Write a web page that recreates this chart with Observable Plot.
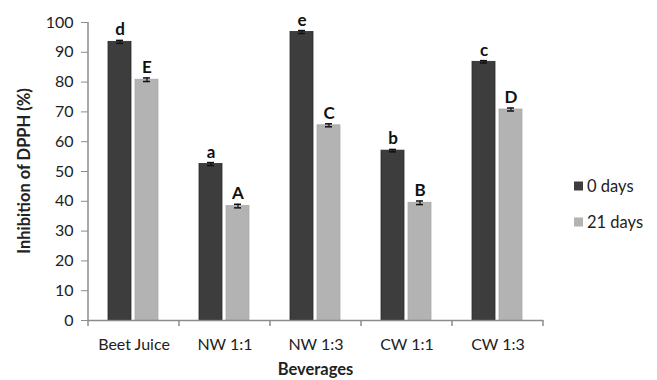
<!DOCTYPE html>
<html>
<head>
<meta charset="utf-8">
<script src="https://cdn.jsdelivr.net/npm/d3@7"></script>
<script src="https://cdn.jsdelivr.net/npm/@observablehq/plot@0.6"></script>
<style>
  html, body { margin: 0; padding: 0; background: #fff; }
  #chart svg { display: block; }
</style>
</head>
<body>
<div id="chart"></div>
<script>
const categories = ["Beet Juice", "NW 1:1", "NW 1:3", "CW 1:1", "CW 1:3"];
const series = ["0 days", "21 days"];
const day0 = [93.5, 52.5, 96.8, 57.0, 86.8];
const day21 = [80.8, 38.4, 65.5, 39.5, 70.8];
const err0 = [0.5, 0.5, 0.5, 0.4, 0.4];
const err21 = [0.6, 0.6, 0.5, 0.6, 0.5];
const letters0 = ["d", "a", "e", "b", "c"];
const letters21 = ["E", "A", "C", "B", "D"];
const yTicks = [0, 10, 20, 30, 40, 50, 60, 70, 80, 90, 100];
const xTitle = "Beverages";
const yTitle = "Inhibition of DPPH (%)";

const data = [];
categories.forEach((c, i) => {
  data.push({cat: c, series: series[0], value: day0[i], err: err0[i], letter: letters0[i]});
  data.push({cat: c, series: series[1], value: day21[i], err: err21[i], letter: letters21[i]});
});

const font = "Lato, 'Open Sans', sans-serif";
const axisGray = "#8c8c8c";
const textColor = "#222";

const chart = Plot.plot({
  width: 657,
  height: 380,
  marginLeft: 86,
  marginRight: 113,
  marginTop: 22,
  marginBottom: 60,
  style: {fontFamily: font, background: "#fff", color: textColor},
  fx: {domain: categories, padding: 0, label: null},
  x: {domain: series, paddingInner: 0.143, paddingOuter: 0.707, axis: null},
  y: {domain: [0, 100], axis: null},
  color: {domain: series, range: ["#3d3d3d", "#b3b3b3"]},
  marks: [
    Plot.barY(data, {fx: "cat", x: "series", y: "value", fill: "series", stroke: d => d.series === series[0] ? "#2a2a2a" : "#aaaaaa", strokeWidth: 0.8}),
    Plot.ruleY([0], {stroke: axisGray, strokeWidth: 1.5}),
    Plot.ruleX(data, {fx: "cat", x: "series", y1: d => d.value - d.err, y2: d => d.value + d.err, stroke: "#111", strokeWidth: 1.2}),
    Plot.tickY(data, {fx: "cat", x: "series", y: d => d.value + d.err, insetLeft: 8, insetRight: 8, stroke: "#111", strokeWidth: 1.5}),
    Plot.tickY(data, {fx: "cat", x: "series", y: d => d.value - d.err, insetLeft: 8, insetRight: 8, stroke: "#111", strokeWidth: 1.5}),
    Plot.text(data, {fx: "cat", x: "series", y: d => d.value + d.err, text: "letter", dy: -5, lineAnchor: "bottom", fontWeight: "bold", fontSize: 17, fill: "#111"}),
    Plot.axisY({ticks: yTicks, tickSize: 7, tickPadding: 8, label: null, fontSize: 16, stroke: axisGray, fill: textColor}),
    Plot.axisFx({anchor: "bottom", tickSize: 0, tickPadding: 18, label: null, fontSize: 16, fill: textColor})
  ]
});

const svg = d3.select(chart);
const fx = chart.scale("fx");
const y = chart.scale("y");
const color = chart.scale("color");
const x0 = fx.apply(categories[0]);
const bw = fx.bandwidth;
const y0 = y.apply(0);
const y100 = y.apply(100);

// y axis line
svg.append("line").attr("x1", x0).attr("x2", x0).attr("y1", y100).attr("y2", y0)
  .attr("stroke", axisGray).attr("stroke-width", 1.5);
// category boundary ticks
const bounds = categories.map(c => fx.apply(c)).concat([fx.apply(categories[categories.length - 1]) + bw]);
svg.append("g").selectAll("line").data(bounds).join("line")
  .attr("x1", d => d).attr("x2", d => d).attr("y1", y0).attr("y2", y0 + 6)
  .attr("stroke", axisGray).attr("stroke-width", 1.5);

// axis titles
svg.append("text").attr("x", (bounds[0] + bounds[bounds.length - 1]) / 2).attr("y", 375)
  .attr("text-anchor", "middle").attr("font-weight", "bold").attr("font-size", 16.5)
  .attr("fill", textColor).attr("font-family", font).text(xTitle);
svg.append("text").attr("transform", `translate(30,${(y0 + y100) / 2}) rotate(-90)`)
  .attr("text-anchor", "middle").attr("font-weight", "bold").attr("font-size", 16.5)
  .attr("fill", textColor).attr("font-family", font).text(yTitle);

// legend
const lg = svg.append("g").attr("font-family", font).attr("font-size", 16.5).attr("fill", textColor)
  .attr("text-anchor", "start");
series.forEach((s, i) => {
  const cy = 186 + i * 36;
  lg.append("rect").attr("x", 574).attr("y", cy - 4.5).attr("width", 9).attr("height", 9).attr("fill", color.apply(s));
  lg.append("text").attr("x", 587).attr("y", cy).attr("dy", "0.36em").attr("text-anchor", "start").text(s);
});

document.getElementById("chart").appendChild(chart);
</script>
</body>
</html>
